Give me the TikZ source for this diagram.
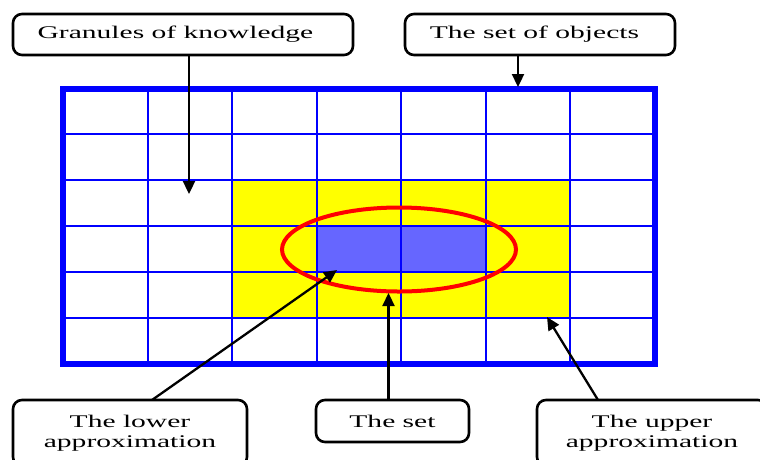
\documentclass[tikz,border=0pt]{standalone}
\usepackage{fontspec}
\setmainfont{Liberation Serif}[FakeStretch=1.66]
\usetikzlibrary{arrows.meta}
\definecolor{setblue}{HTML}{6666FF}
\definecolor{upyellow}{HTML}{FFFF00}
\definecolor{gridblue}{HTML}{0000FF}
\tikzset{
  labelbox/.style={draw=black, line width=2.6pt, rounded corners=9pt, fill=white,
    inner sep=0pt, align=center, font=\fontsize{17.8}{20}\selectfont},
  arr/.style={draw=black, line width=2.3pt, -{Triangle[length=13pt,width=12pt]}},
  gridline/.style={draw=gridblue, line width=2.1pt},
  border/.style={draw=gridblue, line width=6pt},
}
\begin{document}
\begin{tikzpicture}[x=1pt,y=-1pt]
\useasboundingbox (0,0) rectangle (760,459);
\clip (0,0) rectangle (760,459);
\fill[white] (0,0) rectangle (760,459);
% grid geometry
\def\gx#1{63+84.57*#1}
\def\gy#1{88.5+45.9*#1}
% yellow upper approximation
\fill[upyellow] ({\gx{2}},{\gy{2}}) rectangle ({\gx{6}},{\gy{5}});
% lower approximation
\fill[setblue] ({\gx{3}},{\gy{3}}) rectangle ({\gx{5}},{\gy{4}});
% inner grid lines
\foreach \i in {1,...,6} \draw[gridline] ({\gx{\i}},{\gy{0}}) -- ({\gx{\i}},{\gy{6}});
\foreach \j in {1,...,5} \draw[gridline] ({\gx{0}},{\gy{\j}}) -- ({\gx{7}},{\gy{\j}});
\draw[border] ({\gx{0}},{\gy{0}}) rectangle ({\gx{7}},{\gy{6}});
% the set
\draw[red, line width=4pt] (399,249.5) ellipse [x radius=117, y radius=42];
% label boxes
\node[labelbox, minimum width=340pt, minimum height=41pt] (gran) at (183,34.5) {Granules of knowledge\hspace*{15pt}};
\node[labelbox, minimum width=270pt, minimum height=41pt] (obj) at (540,34.5) {The set of objects\hspace*{11pt}};
\node[labelbox, minimum width=234pt, minimum height=66pt] (low) at (130,433) {The lower\\approximation};
\node[labelbox, minimum width=153pt, minimum height=42pt] (set) at (392.5,421) {The set};
\node[labelbox, minimum width=230pt, minimum height=66pt] (up) at (652,433) {The upper\\approximation};
% connector targets
\coordinate (tg) at (189,194);
\coordinate (to) at (518,87);
\coordinate (tl) at (337,270);
\coordinate (ts) at (388.5,293);
\coordinate (tu) at (547,317);
\coordinate (sl) at (152,400);
\coordinate (su) at (598,400);
\draw[arr] (gran.south -| tg) -- (tg);
\draw[arr] (obj.south -| to) -- (to);
\draw[arr] (sl) -- (tl);
\draw[arr] (set.north -| ts) -- (ts);
\draw[arr] (su) -- (tu);
\end{tikzpicture}
\end{document}
